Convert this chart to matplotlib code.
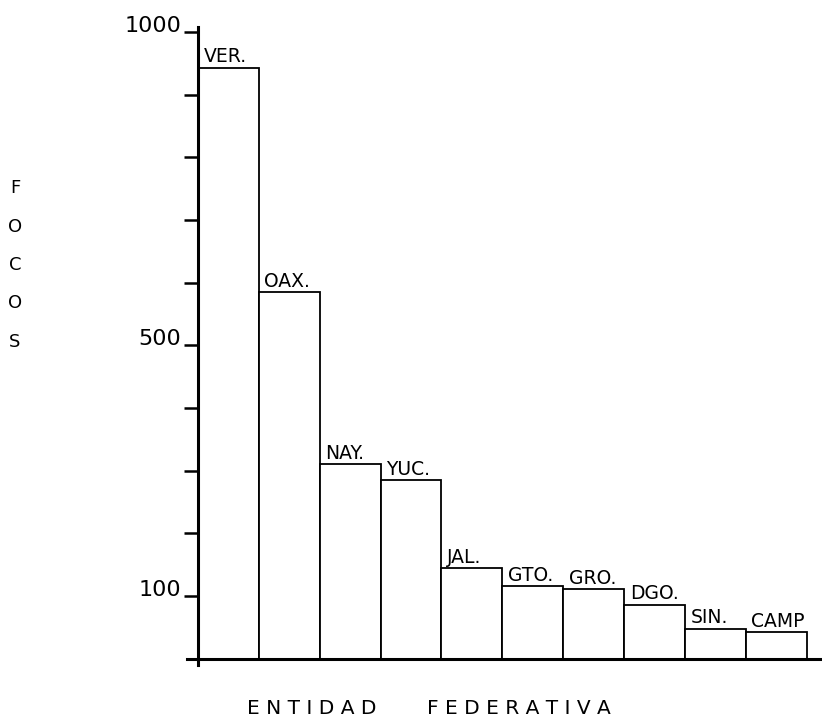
import numpy as np
import matplotlib
matplotlib.use("Agg")
import matplotlib.pyplot as plt

# datos
estados = ["VER.", "OAX.", "NAY.", "YUC.", "JAL.", "GTO.", "GRO.", "DGO.", "SIN.", "CAMP"]
focos = [943, 585, 310, 285, 144, 116, 111, 86, 48, 42]
ticks_mayores = [100, 500, 1000]
ticks_menores = [200, 300, 400, 600, 700, 800, 900]

fig = plt.figure(figsize=(8.22, 7.27), dpi=100)
ax = fig.add_axes([0.2275, 0.0853, 0.7725, 0.8776])

x = np.arange(len(focos))
ax.bar(x, focos, width=1.0, align="edge", facecolor="white",
       edgecolor="black", linewidth=1.3)

for i, (nombre, v) in enumerate(zip(estados, focos)):
    ax.annotate(nombre, (i, v), xytext=(4, 1), textcoords="offset points",
                ha="left", va="bottom", fontsize=13.5)

ax.set_xlim(-0.18, 10.25)
ax.set_ylim(-10, 1008)

for s in ["top", "right"]:
    ax.spines[s].set_visible(False)
ax.spines["left"].set_position(("data", 0))
ax.spines["bottom"].set_position(("data", 0))
ax.spines["left"].set_linewidth(2.2)
ax.spines["bottom"].set_linewidth(2.2)

ax.set_xticks([])
ax.set_yticks(ticks_mayores)
ax.set_yticks(ticks_menores, minor=True)
ax.set_yticklabels([str(t) for t in ticks_mayores], fontsize=16)
ax.tick_params(axis="y", which="both", length=10, width=1.8, pad=2)
for lbl in ax.get_yticklabels():
    lbl.set_verticalalignment("baseline")

# titulo vertical del eje y
for k, letra in enumerate("FOCOS"):
    fig.text(15 / 822, 1 - (188 + k * 38.5) / 727, letra, fontsize=13,
             ha="center", va="center")

fig.text(312 / 822, 1 - 709 / 727, "E N T I D A D", fontsize=14.5,
         ha="center", va="center")
fig.text(519 / 822, 1 - 709 / 727, "F E D E R A T I V A", fontsize=14.5,
         ha="center", va="center")

fig.savefig("out.png", dpi=100)
